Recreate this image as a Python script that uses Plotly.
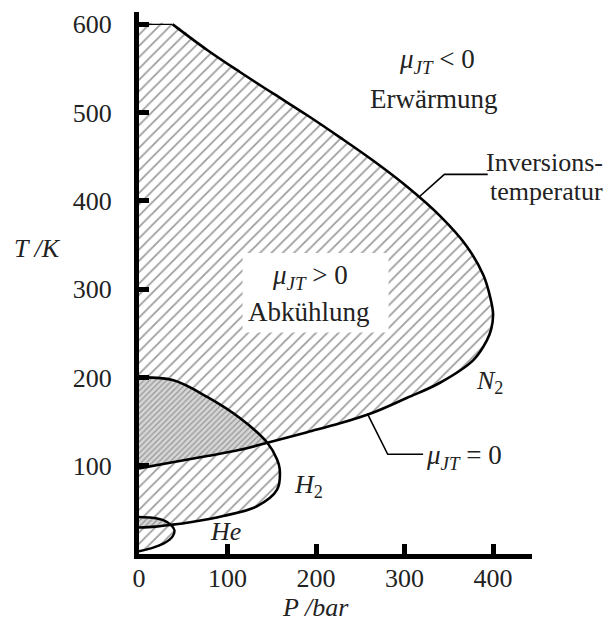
import plotly.graph_objects as go

# ---- data (P in bar, T in K) ----
P_N2 = [0, 38, 77, 114, 151, 190, 227, 264, 303, 340, 370, 389, 397, 400, 398, 393, 378, 340, 303, 264, 227, 190, 145, 114, 77, 38, 0]
T_N2 = [600, 600, 571, 546, 522, 497, 472, 446, 416, 383, 349, 316, 290, 272, 255, 242, 220, 194, 177, 160, 148, 138, 126, 118, 111, 104, 97]

P_H2 = [0, 38, 77, 114, 145, 156, 159, 156, 133, 95, 58, 36, 18, 0]
T_H2 = [200, 197, 178, 154, 126, 107, 96, 73, 54, 43, 36, 33, 31, 30]

P_He = [0, 15, 28, 36, 40, 38, 28, 12, 0]
T_He = [42, 41, 38, 33, 27, 20, 12, 6, 3]

# index of shared crossing points
N2_X_H2 = 22   # (145,126) in N2
H2_X_N2 = 4    # (145,126) in H2
H2_X_HE = 11   # (36,33) in H2
HE_X_H2 = 3    # (36,33) in He

x_ticks = [0, 100, 200, 300, 400]
y_ticks = [0, 100, 200, 300, 400, 500, 600]
x_tick_labels = ["0", "100", "200", "300", "400"]
y_tick_labels = ["", "100", "200", "300", "400", "500", "600"]

FONT = "Liberation Serif"
TXT = "#222222"
HATCH = dict(shape="/", size=8, solidity=0.22, fgcolor="#3a3a3a", bgcolor="white")
DENSE = dict(shape="/", size=4, solidity=0.3, fgcolor="#555555", bgcolor="#d6d6d6")

fig = go.Figure()


def fill(px, ty, pattern):
    fig.add_trace(go.Scatter(
        x=px, y=ty, mode="lines", fill="toself",
        line=dict(width=0, shape="spline", color="rgba(0,0,0,0)"),
        fillcolor=pattern["bgcolor"], fillpattern=pattern,
        hoverinfo="skip", showlegend=False))


fill(P_N2, T_N2, HATCH)
fill(P_H2, T_H2, HATCH)
fill(P_He, T_He, HATCH)
fill(P_H2[:H2_X_N2 + 1] + P_N2[N2_X_H2:], T_H2[:H2_X_N2 + 1] + T_N2[N2_X_H2:], DENSE)
fill(P_He[:HE_X_H2 + 1] + P_H2[H2_X_HE:], T_He[:HE_X_H2 + 1] + T_H2[H2_X_HE:], DENSE)


def curve(px, ty, w):
    fig.add_trace(go.Scatter(
        x=px, y=ty, mode="lines",
        line=dict(width=w, shape="spline", color="black"),
        hoverinfo="skip", showlegend=False))


curve(P_N2[:2], T_N2[:2], 1.2)
curve(P_N2[1:], T_N2[1:], 2.6)
curve(P_H2, T_H2, 2.6)
curve(P_He, T_He, 2.4)

# white box behind the "Abkühlung" label
box_P = [117, 282]
box_T = [251, 341]
fig.add_shape(type="rect", xref="x", yref="y", x0=box_P[0], x1=box_P[1], y0=box_T[0], y1=box_T[1],
              fillcolor="white", line=dict(width=0), layer="above")

# leader lines
lead_inv_P = [317, 345, 394]
lead_inv_T = [405, 430, 430]
lead_mu_P = [258, 281, 321]
lead_mu_T = [159, 113, 113]
for lp, lt in ((lead_inv_P, lead_inv_T), (lead_mu_P, lead_mu_T)):
    path = "M %g,%g L %g,%g L %g,%g" % (lp[0], lt[0], lp[1], lt[1], lp[2], lt[2])
    fig.add_shape(type="path", xref="x", yref="y", path=path,
                  line=dict(color="black", width=1.6), layer="above")


def label(text, x, y, xanchor="center", ref="x", size=27):
    fig.add_annotation(text=text, x=x, y=y,
                       xref=ref if ref == "paper" else "x",
                       yref=ref if ref == "paper" else "y",
                       showarrow=False, xanchor=xanchor, yanchor="middle",
                       font=dict(family=FONT, size=size, color=TXT))


label("<i>μ</i><sub><i>JT</i></sub> &lt; 0", 337, 558)
label("Erwärmung", 333, 515)
label("<i>μ</i><sub><i>JT</i></sub> &gt; 0", 193, 314)
label("Abkühlung", 192, 274)
label("Inversions-", 1.033, 0.7224, ref="paper", size=26)
label("temperatur", 1.036, 0.669, ref="paper", size=26)
label("<i>N</i><sub>2</sub>", 396, 195, size=26)
label("<i>H</i><sub>2</sub>", 191, 77, size=26)
label("<i>He</i>", 98, 26, size=26)
label("<i>μ</i><sub><i>JT</i></sub> = 0", 322, 110, xanchor="left")
label("<i>T /K</i>", -0.257, 0.564, ref="paper", size=26)
label("<i>P /bar</i>", 0.448, -0.099, ref="paper", size=26)

axis_common = dict(showgrid=False, zeroline=False, showline=True, linecolor="black", linewidth=5,
                   ticks="inside", ticklen=10, tickwidth=5, tickcolor="black",
                   tickfont=dict(family=FONT, size=26, color=TXT))

fig.update_xaxes(range=[0, 444], tickvals=x_ticks, ticktext=x_tick_labels, ticklabelstandoff=-3, **axis_common)
fig.update_yaxes(range=[0, 614], tickvals=y_ticks, ticktext=y_tick_labels, ticklabelstandoff=17, **axis_common)

# the page adds an 8 px body margin on every side, so the figure is made 16 px smaller
# and its margins reduced to keep the plot where the reference has it
fig.update_layout(width=598, height=617, margin=dict(l=131, r=74, t=2, b=71),
                  plot_bgcolor="white", paper_bgcolor="white", showlegend=False)

fig.write_html("out.html")
